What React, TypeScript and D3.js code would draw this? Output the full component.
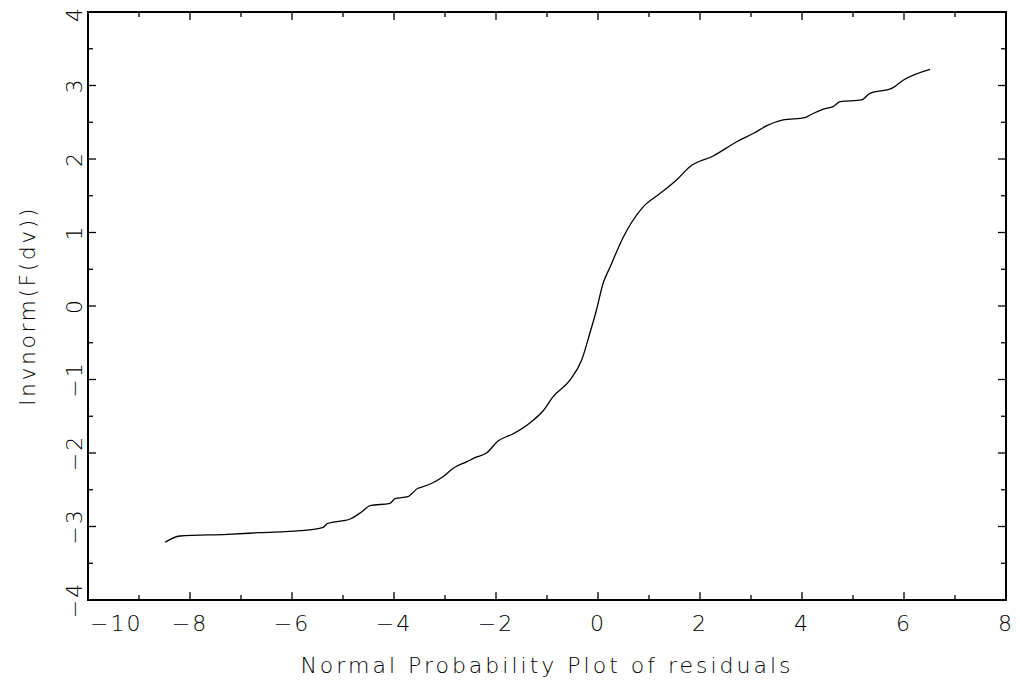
import React from "react";
import * as d3 from "d3";

// residuals (x) against Invnorm(F(dv)) (y)
const residuals = [
  -8.49, -8.2, -7.27, -6.63, -5.84, -5.39, -5.31, -4.86, -4.63, -4.47, -4.08, -3.98,
  -3.73, -3.53, -3.43, -3.29, -3.04, -2.84, -2.57, -2.41, -2.18, -1.96, -1.67, -1.33,
  -1.08, -0.88, -0.55, -0.32, -0.16, -0.03, 0.1, 0.24, 0.5, 0.86, 1.22, 1.54, 1.8,
  2.26, 2.72, 3.05, 3.31, 3.63, 4.06, 4.16, 4.42, 4.61, 4.75, 5.17, 5.33, 5.76, 5.99,
  6.51,
];
const invnorm = [
  -3.215, -3.129, -3.106, -3.084, -3.057, -3.011, -2.962, -2.898, -2.799, -2.717,
  -2.684, -2.622, -2.594, -2.48, -2.459, -2.422, -2.322, -2.208, -2.118, -2.064,
  -1.996, -1.837, -1.741, -1.588, -1.429, -1.234, -1.007, -0.735, -0.371, -0.054,
  0.309, 0.535, 0.943, 1.329, 1.533, 1.714, 1.895, 2.041, 2.235, 2.35, 2.453, 2.531,
  2.562, 2.599, 2.68, 2.712, 2.78, 2.803, 2.894, 2.962, 3.075, 3.22,
];

const xMajor = [-10, -8, -6, -4, -2, 0, 2, 4, 6, 8];
const xMinor = [-9, -7, -5, -3, -1, 1, 3, 5, 7];
const yMajor = [-4, -3, -2, -1, 0, 1, 2, 3, 4];
const yMinor = [-3.5, -2.5, -1.5, -0.5, 0.5, 1.5, 2.5, 3.5];

const xTitle = "Normal Probability Plot of residuals";
const yTitle = "Invnorm(F(dv))";

const W = 1020;
const H = 686;
const left = 88;
const right = 1006;
const top = 12;
const bottom = 600;

const font = "'DejaVu Sans', sans-serif";
const minus = (v: number) => (v < 0 ? "\u2212" + Math.abs(v) : String(v));

export default function App() {
  const x = d3.scaleLinear().domain([-10, 8]).range([left, right]);
  const y = d3.scaleLinear().domain([-4, 4]).range([bottom, top]);

  const pts: [number, number][] = residuals.map((r, i) => [r, invnorm[i]]);
  const line = d3
    .line<[number, number]>()
    .x((d) => x(d[0]))
    .y((d) => y(d[1]))
    .curve(d3.curveMonotoneX);

  const tick = { stroke: "#000", strokeWidth: 1.3 };
  const textStyle = {
    fontFamily: font,
    fontSize: 22,
    fontWeight: 200,
    fill: "#000",
  } as const;

  return (
    <svg
      width={W}
      height={H}
      style={{ position: "absolute", left: 0, top: 0, background: "#fff" }}
    >
      {/* x ticks, bottom and top */}
      {xMajor.map((v) => (
        <g key={"xM" + v}>
          <line x1={x(v)} x2={x(v)} y1={bottom} y2={bottom - 8} {...tick} />
          <line x1={x(v)} x2={x(v)} y1={top} y2={top + 8} {...tick} />
        </g>
      ))}
      {xMinor.map((v) => (
        <g key={"xm" + v}>
          <line x1={x(v)} x2={x(v)} y1={bottom} y2={bottom - 5} {...tick} />
          <line x1={x(v)} x2={x(v)} y1={top} y2={top + 5} {...tick} />
        </g>
      ))}
      {/* y ticks, left and right */}
      {yMajor.map((v) => (
        <g key={"yM" + v}>
          <line x1={left} x2={left + 8} y1={y(v)} y2={y(v)} {...tick} />
          <line x1={right} x2={right - 8} y1={y(v)} y2={y(v)} {...tick} />
        </g>
      ))}
      {yMinor.map((v) => (
        <g key={"ym" + v}>
          <line x1={left} x2={left + 5} y1={y(v)} y2={y(v)} {...tick} />
          <line x1={right} x2={right - 5} y1={y(v)} y2={y(v)} {...tick} />
        </g>
      ))}

      <rect
        x={left}
        y={top}
        width={right - left}
        height={bottom - top}
        fill="none"
        stroke="#000"
        strokeWidth={2}
      />

      <path d={line(pts) ?? ""} fill="none" stroke="#000" strokeWidth={1.3} />

      {/* x tick labels */}
      {xMajor.map((v, i) => (
        <text
          key={"xl" + v}
          x={i === 0 ? x(v) + 2 : x(v)}
          y={631}
          textAnchor={i === 0 ? "start" : "middle"}
          style={{ ...textStyle, letterSpacing: 2 }}
        >
          {minus(v)}
        </text>
      ))}

      {/* y tick labels, rotated */}
      {yMajor.map((v, i) => {
        const cy = i === yMajor.length - 1 ? y(v) + 2 : y(v);
        return (
          <text
            key={"yl" + v}
            transform={`translate(82,${cy}) rotate(-90)`}
            textAnchor="middle"
            style={{ ...textStyle, letterSpacing: 2 }}
          >
            {minus(v)}
          </text>
        );
      })}

      <text
        x={(left + right) / 2}
        y={673}
        textAnchor="middle"
        style={{ ...textStyle, letterSpacing: 3 }}
      >
        {xTitle}
      </text>
      <text
        transform={`translate(35,${(top + bottom) / 2}) rotate(-90)`}
        textAnchor="middle"
        style={{ ...textStyle, letterSpacing: 2.5 }}
      >
        {yTitle}
      </text>
    </svg>
  );
}
